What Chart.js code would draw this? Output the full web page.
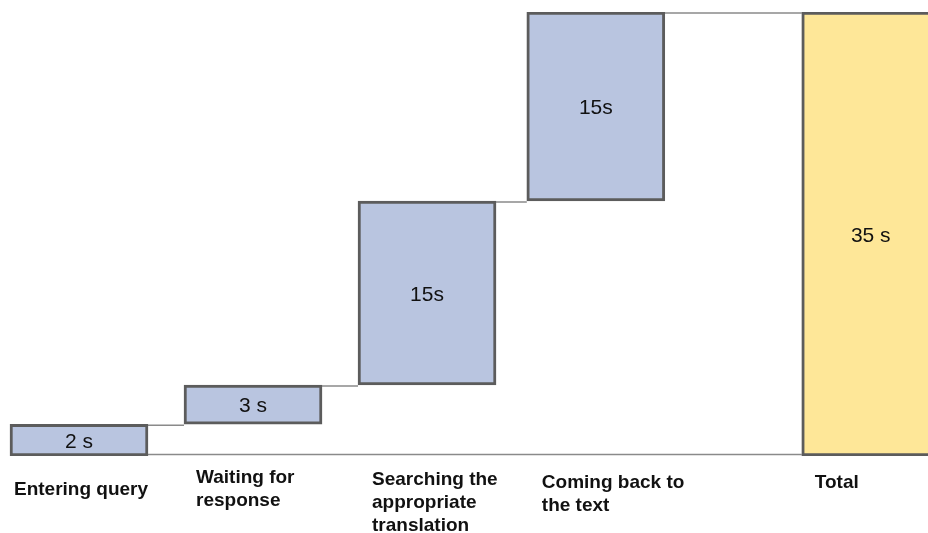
<!DOCTYPE html>
<html>
<head>
<meta charset="utf-8">
<script src="https://cdn.jsdelivr.net/npm/chart.js@4.4.0/dist/chart.umd.min.js"></script>
<style>
  html, body { margin: 0; padding: 0; background: #fff; }
  #wrap { width: 928px; height: 533px; }
</style>
</head>
<body>
<div id="wrap"><canvas id="waterfall"></canvas></div>
<script>
  const steps = [['Entering query'], ['Waiting for', 'response'], ['Searching the', 'appropriate', 'translation'], ['Coming back to', 'the text'], ['Total']];
  const barStart = [0, 2.5, 5.6, 20.1, 0];
  const barEnd = [2.5, 5.6, 20.1, 35, 35];
  const valueLabels = ['2 s', '3 s', '15s', '15s', '35 s'];

  // layout only (where each step sits, how the labels are nudged)
  const slotX = [0, 1, 2, 2.97, 4.55];
  const labelShiftX = [4, 12, 14, 15, 13];
  const labelFirstLineY = [490, 478, 480, 483, 483];

  const connectors = {
    id: 'connectors',
    beforeDatasetsDraw(chart) {
      const ctx = chart.ctx;
      const bars = chart.getDatasetMeta(0).data;
      ctx.save();
      ctx.strokeStyle = '#8a8a8a';
      ctx.lineWidth = 1.5;
      ctx.beginPath();
      const y0 = bars[0].base - 1.5;
      ctx.moveTo(bars[0].x + bars[0].width / 2, y0);
      ctx.lineTo(bars[4].x - bars[4].width / 2, y0);
      for (let i = 0; i < 4; i++) {
        const yy = bars[i].y + 1;
        ctx.moveTo(bars[i].x + bars[i].width / 2, yy);
        ctx.lineTo(bars[i + 1].x - bars[i + 1].width / 2, yy);
      }
      ctx.stroke();
      ctx.restore();
    }
  };

  const textLabels = {
    id: 'textLabels',
    afterDraw(chart) {
      const ctx = chart.ctx;
      const bars = chart.getDatasetMeta(0).data;
      ctx.save();
      ctx.fillStyle = '#111';
      ctx.textBaseline = 'middle';
      ctx.font = '21px "Liberation Sans", Arial, sans-serif';
      ctx.textAlign = 'center';
      bars.forEach((b, i) => {
        ctx.fillText(valueLabels[i], b.x, (b.y + b.base) / 2 + 2);
      });
      ctx.font = 'bold 19px "Liberation Sans", Arial, sans-serif';
      ctx.textAlign = 'left';
      bars.forEach((b, i) => {
        const left = b.x - b.width / 2 + labelShiftX[i];
        steps[i].forEach((line, j) => {
          ctx.fillText(line, left, labelFirstLineY[i] + j * 23);
        });
      });
      ctx.restore();
    }
  };

  new Chart(document.getElementById('waterfall'), {
    type: 'bar',
    data: {
      datasets: [{
        data: barStart.map((s, i) => ({ x: slotX[i], y: [s, barEnd[i]] })),
        backgroundColor: ['#b9c5e0', '#b9c5e0', '#b9c5e0', '#b9c5e0', '#fee798'],
        borderColor: '#5c5c5c',
        borderWidth: 3,
        borderSkipped: false,
        barThickness: 138
      }]
    },
    options: {
      responsive: true,
      maintainAspectRatio: false,
      animation: false,
      layout: { padding: { top: 12, bottom: 77, left: 0, right: 0 } },
      plugins: { legend: { display: false }, tooltip: { enabled: false } },
      scales: {
        x: { type: 'linear', offset: false, min: -0.454, max: 4.879, display: false },
        y: { min: 0, max: 35, display: false }
      }
    },
    plugins: [connectors, textLabels]
  });
</script>
</body>
</html>
